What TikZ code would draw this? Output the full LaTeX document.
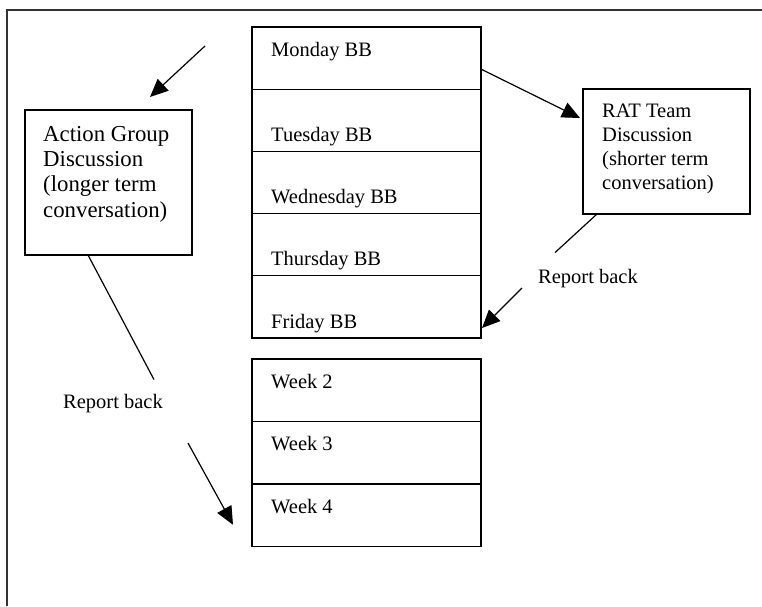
\documentclass[tikz,border=0pt]{standalone}
\usepackage{fontspec}
\setmainfont{Liberation Serif}
\usetikzlibrary{arrows.meta, positioning}

\tikzset{
  day/.style={draw, line width=1.3pt, minimum width=229pt, minimum height=62.2pt, inner sep=0pt, outer sep=0pt},
  week/.style={day, minimum height=62.5pt},
  talk/.style={draw, line width=1.3pt, minimum width=167pt, inner sep=0pt, outer sep=0pt},
  txt/.style={inner sep=0pt, font=\fontsize{20.5}{24}\selectfont},
  arr/.style={line width=1.2pt, -{Triangle[length=18pt, width=16pt]}}
}

\begin{document}
\begin{tikzpicture}[x=1pt, y=-1pt]
    \useasboundingbox (0,0) rectangle (762,606);
    % Frame
    \draw[line width=1.6pt, black!80] (762,10) -- (7,10) -- (7,606);
    % Daily boxes
    \node[day] (mon) at (366.5,58.1) {};
    \node[day, below=0pt of mon] (tue) {};
    \node[day, below=0pt of tue] (wed) {};
    \node[day, below=0pt of wed] (thu) {};
    \node[day, below=0pt of thu] (fri) {};
    \node[txt, anchor=base west] (monT) at ([xshift=19pt, yshift=-29.5pt]mon.north west) {Monday BB};
    \node[txt, anchor=base west] (tueT) at ([xshift=19pt, yshift=10pt]tue.south west) {Tuesday BB};
    \node[txt, anchor=base west] (wedT) at ([xshift=19pt, yshift=10.5pt]wed.south west) {Wednesday BB};
    \node[txt, anchor=base west] (thuT) at ([xshift=19pt, yshift=10.5pt]thu.south west) {Thursday BB};
    \node[txt, anchor=base west] (friT) at ([xshift=19pt, yshift=10pt]fri.south west) {Friday BB};
    % Weekly boxes
    \node[week] (wk2) at (366.5,390.25) {};
    \node[week, below=0pt of wk2] (wk3) {};
    \node[week, below=0pt of wk3] (wk4) {};
    \node[txt, anchor=base west] (wk2T) at ([xshift=19pt, yshift=-29pt]wk2.north west) {Week 2};
    \node[txt, anchor=base west] (wk3T) at ([xshift=19pt, yshift=-29pt]wk3.north west) {Week 3};
    \node[txt, anchor=base west] (wk4T) at ([xshift=19pt, yshift=-29pt]wk4.north west) {Week 4};
    % Discussion boxes
    \node[talk, minimum height=145pt] (act) at (108.5,182.5) {};
    \node[anchor=north west, align=left, inner sep=0pt, font=\fontsize{22.8}{25.3}\selectfont] (actT)
        at ([xshift=18pt, yshift=-16pt]act.north west) {Action Group\\Discussion\\(longer term\\conversation)};
    \node[talk, minimum height=125pt] (rat) at (666.5,151.5) {};
    \node[txt, anchor=north west, align=left] (ratT)
        at ([xshift=19pt, yshift=-15pt]rat.north west) {RAT Team\\Discussion\\(shorter term\\conversation)};
    % Report back labels
    \node[txt, anchor=base] (rbR) at (588,283) {Report back};
    \node[txt, anchor=base] (rbL) at (113,408) {Report back};
    % Arrows
    \coordinate (toAct) at (205,46);
    \draw[arr] (toAct) -- ([xshift=41.5pt, yshift=13pt]act.north);
    \draw[arr] ([yshift=-11pt]mon.east) -- ([xshift=-3pt, yshift=33.5pt]rat.west);
    \draw[line width=1.2pt] ([xshift=14pt]rat.south west) -- ([xshift=17pt, yshift=16pt]rbR.north west);
    \draw[arr] ([xshift=-16pt, yshift=-10pt]rbR.west) -- ([xshift=1pt, yshift=10pt]fri.south east);
    \draw[line width=1.2pt] ([xshift=-20.5pt]act.south) -- ([xshift=41pt, yshift=14pt]rbL.north);
    \draw[arr] ([xshift=25pt, yshift=-30.5pt]rbL.south east) -- ([xshift=-19pt, yshift=-9.5pt]wk4.west);
\end{tikzpicture}
\end{document}
